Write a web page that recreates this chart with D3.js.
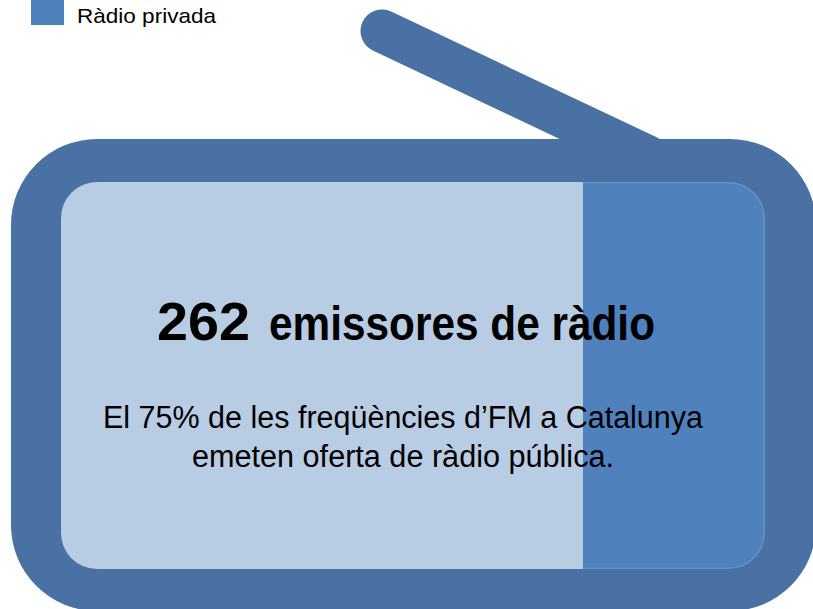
<html><head>
    <title>Emissores de ràdio</title>
    <script src="https://d3js.org/d3.v7.min.js"></script>
    <style>
        body { margin: 0; background: #fff; overflow: hidden; }
        text { font-family: "Liberation Sans", sans-serif; fill: #000; }
    </style>
</head>
<body>
<div id="chart"></div>

<script>
    const svgWidth = 813;
    const svgHeight = 609;

    // values
    const categories = ["Ràdio pública", "Ràdio privada"];
    const shares = [74.2, 25.8];
    const colors = ["#b8cce4", "#4f81bd"];
    const legendItems = ["Ràdio privada"];
    const totalNumber = "262";
    const totalLabel = "emissores de ràdio";
    const noteLines = ["El 75% de les freqüències d’FM a Catalunya", "emeten oferta de ràdio pública."];
    const noteWidths = [600, 422];

    const frameColor = "#4a71a3";
    const inner = {left: 61, right: 765, top: 182, bottom: 569, radius: 36};

    const svg = d3.select("#chart")
        .append("svg")
        .attr("width", svgWidth)
        .attr("height", svgHeight);

    // antenna, then the body of the radio
    svg.append("line")
        .attr("x1", 382).attr("y1", 31)
        .attr("x2", 648).attr("y2", 157)
        .attr("stroke", frameColor)
        .attr("stroke-width", 43)
        .attr("stroke-linecap", "round");

    svg.append("rect")
        .attr("x", 11).attr("y", 139)
        .attr("width", 805).attr("height", 472)
        .attr("rx", 86)
        .attr("fill", frameColor);

    // the screen is the stacked bar, clipped to a rounded shape
    svg.append("clipPath").attr("id", "screen")
        .append("rect")
        .attr("x", inner.left).attr("y", inner.top)
        .attr("width", inner.right - inner.left).attr("height", inner.bottom - inner.top)
        .attr("rx", inner.radius);

    const xScale = d3.scaleLinear()
        .domain([0, d3.sum(shares)])
        .rangeRound([inner.left, inner.right]);

    const stacked = d3.stack().keys(categories)([Object.fromEntries(categories.map((c, i) => [c, shares[i]]))]);

    const bars = svg.append("g").attr("clip-path", "url(#screen)");

    bars.selectAll("rect")
        .data(stacked)
        .join("rect")
        .attr("x", d => xScale(d[0][0]))
        .attr("y", inner.top)
        .attr("width", d => xScale(d[0][1]) - xScale(d[0][0]))
        .attr("height", inner.bottom - inner.top)
        .attr("fill", (d, i) => colors[i]);

    // thin lighter edge on the dark part
    svg.append("clipPath").attr("id", "darkPart")
        .append("rect")
        .attr("x", xScale(stacked[1][0][0]))
        .attr("y", inner.top - 2)
        .attr("width", inner.right - xScale(stacked[1][0][0]) + 4)
        .attr("height", inner.bottom - inner.top + 4);

    svg.append("g").attr("clip-path", "url(#darkPart)")
        .append("rect")
        .attr("x", inner.left + 0.75).attr("y", inner.top + 0.75)
        .attr("width", inner.right - inner.left - 1.5).attr("height", inner.bottom - inner.top - 1.5)
        .attr("rx", inner.radius)
        .attr("fill", "none")
        .attr("stroke", "#6490c4")
        .attr("stroke-width", 1.5);

    // legend, its top is cut by the page
    const legend = svg.append("g");

    legend.selectAll("rect")
        .data(legendItems)
        .join("rect")
        .attr("x", 31).attr("y", -8)
        .attr("width", 33).attr("height", 33)
        .attr("fill", colors[1]);

    legend.selectAll("text")
        .data(legendItems)
        .join("text")
        .attr("x", 77).attr("y", 23)
        .style("font-size", "21px")
        .attr("textLength", 139)
        .attr("lengthAdjust", "spacingAndGlyphs")
        .text(d => d);

    // texts, squeezed because the narrow face of the original is not installed
    svg.append("text")
        .attr("x", 157).attr("y", 340)
        .style("font-weight", "bold")
        .style("font-size", "53px")
        .attr("textLength", 93)
        .attr("lengthAdjust", "spacingAndGlyphs")
        .text(totalNumber);

    svg.append("text")
        .attr("x", 269).attr("y", 340)
        .style("font-weight", "bold")
        .style("font-size", "48px")
        .attr("textLength", 386)
        .attr("lengthAdjust", "spacingAndGlyphs")
        .text(totalLabel);

    svg.selectAll(".note")
        .data(noteLines)
        .join("text")
        .attr("class", "note")
        .attr("x", (d, i) => 403 - noteWidths[i] / 2)
        .attr("y", (d, i) => 428 + i * 39)
        .style("font-size", "31px")
        .attr("textLength", (d, i) => noteWidths[i])
        .attr("lengthAdjust", "spacingAndGlyphs")
        .text(d => d);
</script>
</body></html>
